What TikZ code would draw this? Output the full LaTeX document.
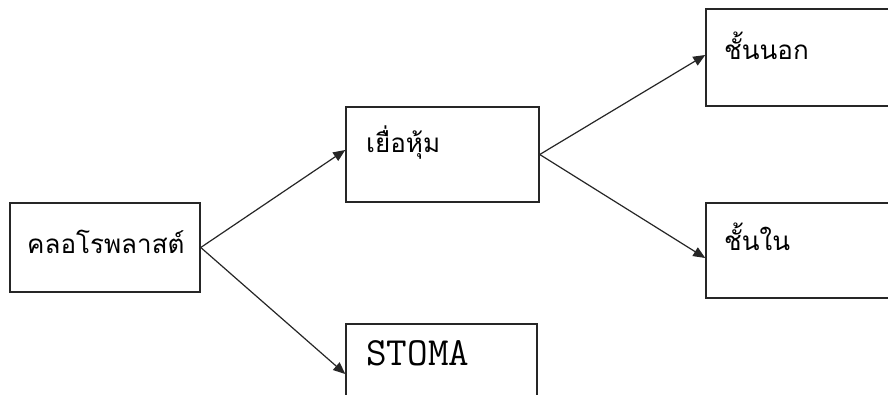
\documentclass[tikz,border=0pt]{standalone}
\usepackage{fontspec}
\setmainfont{Liberation Serif}
\newfontfamily\thaifont[Script=Thai]{Loma}
\usetikzlibrary{arrows.meta}
\begin{document}
\begin{tikzpicture}[x=1pt,y=-1pt,
  box/.style={draw=black!85,line width=1.5pt,rectangle,inner sep=0pt},
  arr/.style={draw=black!85,line width=1.2pt,-{Triangle[length=12pt,width=10pt]}},
  thtxt/.style={anchor=base west,inner sep=0pt,font=\thaifont\fontsize{26}{30}\selectfont},
  entxt/.style={anchor=base west,inner sep=0pt,font=\ttfamily\fontsize{40}{44}\selectfont}]
\useasboundingbox[fill=white] (0,0) rectangle (888,394);
\node[box,minimum width=190pt,minimum height=89pt] (b1) at (105,247.5) {};
\node[box,minimum width=193pt,minimum height=95pt] (b2) at (442.5,154.5) {};
\node[box,minimum width=194pt,minimum height=97pt] (b3) at (803,57.5) {};
\node[box,minimum width=194pt,minimum height=95pt] (b4) at (803,250.5) {};
\node[box,minimum width=191pt,minimum height=96pt] (b5) at (441.5,372) {};
\node[thtxt] (t1) at (27,253) {คลอโรพลาสต์};
\node[thtxt] (t2) at (366,152) {เยื่อหุ้ม};
\node[thtxt] (t3) at (724,59) {ชั้นนอก};
\node[thtxt] (t4) at (724,250) {ชั้นใน};
\node[entxt] (t5) at (366,365) {STOMA};
\draw[arr] (b1.east) -- ([yshift=4.5pt]b2.west);
\draw[arr] (b1.east) -- ([yshift=-2pt]b5.west);
\draw[arr] (b2.east) -- ([yshift=2.5pt]b3.west);
\draw[arr] (b2.east) -- ([yshift=-7.5pt]b4.west);
\end{tikzpicture}
\end{document}
